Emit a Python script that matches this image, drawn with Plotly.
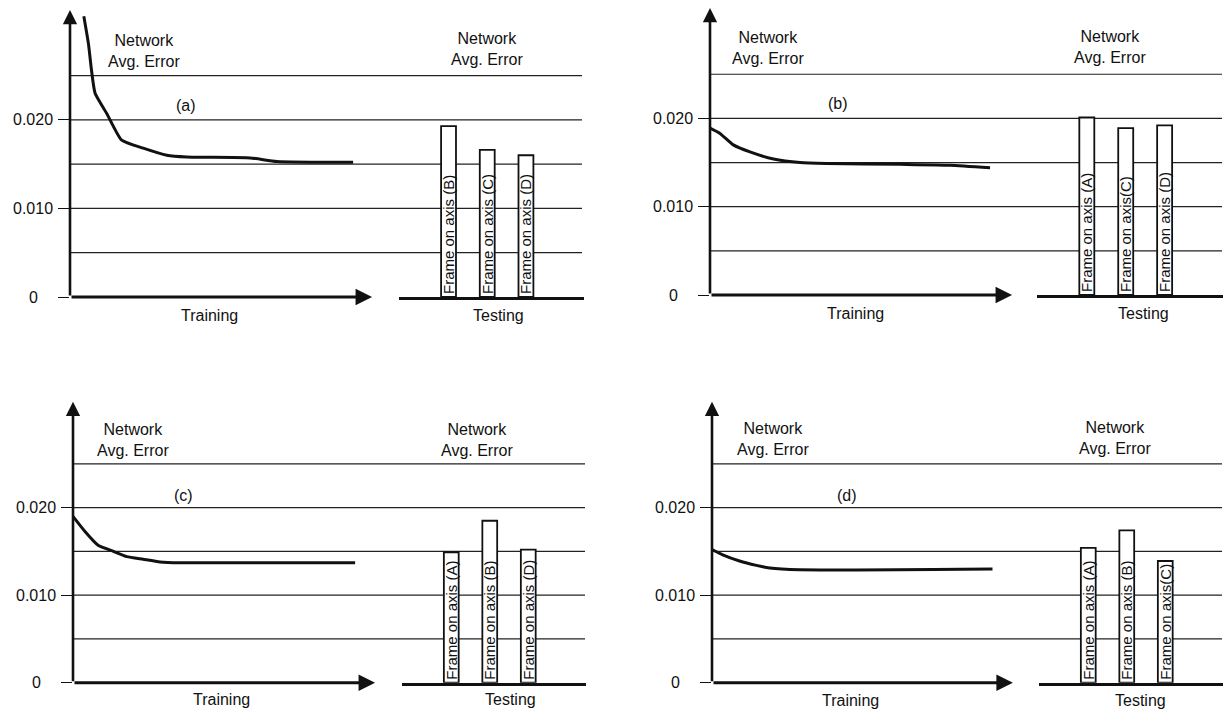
import plotly.graph_objects as go

W, H = 1223, 709
FONT = "Liberation Sans, Arial, sans-serif"

# ---------------- data ----------------
PANEL_TAGS = ["(a)", "(b)", "(c)", "(d)"]

# training curves (x: training progress, arbitrary units; y: network avg. error)
train_x_a = [2.7, 3.6, 4.2, 4.9, 7.2, 10.1, 14.3, 18.9, 22.8, 35.2, 40.4, 55.3]
train_y_a = [0.0317, 0.0286, 0.0256, 0.0230, 0.0207, 0.0177, 0.0168, 0.0160, 0.0158, 0.0157, 0.0153, 0.0152]

train_x_b = [0.0, 1.95, 4.55, 7.8, 12.4, 17.6, 22.8, 37.1, 46.9, 54.7]
train_y_b = [0.0189, 0.0183, 0.0170, 0.0162, 0.0154, 0.0150, 0.0149, 0.0148, 0.0147, 0.0144]

train_x_c = [0.0, 2.3, 4.9, 7.9, 10.5, 13.7, 17.0, 20.9, 55.1]
train_y_c = [0.0190, 0.0173, 0.0157, 0.0150, 0.0144, 0.0141, 0.0138, 0.0137, 0.0137]

train_x_d = [0.0, 2.1, 5.4, 8.7, 11.3, 17.2, 55.0]
train_y_d = [0.0152, 0.0146, 0.0139, 0.0134, 0.0131, 0.0129, 0.0130]

# testing bars
test_labels_a = ["Frame on axis (B)", "Frame on axis (C)", "Frame on axis (D)"]
test_values_a = [0.0193, 0.0166, 0.0160]

test_labels_b = ["Frame on axis (A)", "Frame on axis(C)", "Frame on axis (D)"]
test_values_b = [0.0201, 0.0189, 0.0192]

test_labels_c = ["Frame on axis (A)", "Frame on axis (B)", "Frame on axis (D)"]
test_values_c = [0.0149, 0.0185, 0.0152]

test_labels_d = ["Frame on axis (A)", "Frame on axis (B)", "Frame on axis(C)"]
test_values_d = [0.0154, 0.0174, 0.0139]

GRID_LEVELS = [0.005, 0.010, 0.015, 0.020, 0.025]
TICK_VALUES = [0, 0.010, 0.020]
TICK_LABELS = ["0", "0.010", "0.020"]

train_x = [train_x_a, train_x_b, train_x_c, train_x_d]
train_y = [train_y_a, train_y_b, train_y_c, train_y_d]
test_labels = [test_labels_a, test_labels_b, test_labels_c, test_labels_d]
test_values = [test_values_a, test_values_b, test_values_c, test_values_d]

# ---------------- layout geometry (pixels) ----------------
GEOM = [
    dict(ax=70, gx=582, tx=399, tex=584, zy=297, ty=10, ymax=0.0324),
    dict(ax=710, gx=1222, tx=1037, tex=1223, zy=295, ty=8, ymax=0.0325),
    dict(ax=73, gx=585, tx=402, tex=586, zy=682.7, ty=401.7, ymax=0.0321),
    dict(ax=712, gx=1222, tx=1039, tex=1223, zy=682.7, ty=401.7, ymax=0.0321),
]
TEXTPOS = [
    dict(nl=(144, 51), nr=(487, 49), tag=(186, 106), tr=(209, 315), te=(498, 315)),
    dict(nl=(768, 48), nr=(1110, 47), tag=(838, 103), tr=(855, 313), te=(1143, 313)),
    dict(nl=(133, 440), nr=(477, 440), tag=(183, 495), tr=(222, 699), te=(510, 699)),
    dict(nl=(773, 439), nr=(1115, 438), tag=(847, 495), tr=(850, 700), te=(1140, 700)),
]
X_RANGE = [0, 100]
ARROW_END = 59
CAT_RANGE = [-1.28, 3.5]
BAR_WIDTH = 0.385
TXT = 16


def px_x(p):
    return min(max(p / W, 0.0), 1.0)


def px_y(p):
    return min(max(1 - p / H, 0.0), 1.0)


def aname(i):
    return "" if i == 1 else str(i)


fig = go.Figure()
layout = dict(
    width=W, height=H, margin=dict(l=0, r=0, t=0, b=0),
    paper_bgcolor="white", plot_bgcolor="rgba(0,0,0,0)",
    showlegend=False, font=dict(family=FONT, size=TXT, color="#111"),
)
shapes = []
annotations = []

for p in range(4):
    g = GEOM[p]
    tp = TEXTPOS[p]
    ti = 2 * p + 1
    si = 2 * p + 2
    tn, sn = aname(ti), aname(si)
    ydom = [px_y(g["zy"]), px_y(g["ty"])]

    layout[f"xaxis{tn}"] = dict(domain=[px_x(g["ax"]), px_x(g["gx"])], range=X_RANGE,
                                anchor=f"y{tn}", showline=False, showgrid=False,
                                zeroline=False, showticklabels=False, ticks="")
    layout[f"yaxis{tn}"] = dict(domain=ydom, range=[0, g["ymax"]], anchor=f"x{tn}",
                                showline=False, showgrid=False, zeroline=False,
                                tickvals=TICK_VALUES, ticks="outside", ticklen=11,
                                tickwidth=1.3, tickcolor="#111", showticklabels=False)
    layout[f"xaxis{sn}"] = dict(domain=[px_x(g["tx"]), px_x(g["tex"])], range=CAT_RANGE,
                                anchor=f"y{sn}", type="category", showline=True,
                                linewidth=3, linecolor="#111", showgrid=False,
                                zeroline=False, showticklabels=False, ticks="")
    layout[f"yaxis{sn}"] = dict(domain=ydom, range=[0, g["ymax"]], anchor=f"x{sn}",
                                visible=False)

    fig.add_trace(go.Scatter(x=train_x[p], y=train_y[p], mode="lines",
                             xaxis=f"x{tn}", yaxis=f"y{tn}",
                             line=dict(color="#111", width=3, shape="spline", smoothing=0.5),
                             hoverinfo="skip"))

    for lvl in GRID_LEVELS:
        shapes.append(dict(type="line", xref=f"x{tn} domain", yref=f"y{tn}",
                           x0=0, x1=1, y0=lvl, y1=lvl, layer="below",
                           line=dict(color="#222", width=1.2)))

    annotations.append(dict(xref=f"x{tn}", yref=f"y{tn}", axref=f"x{tn}", ayref=f"y{tn}",
                            x=0, y=g["ymax"], ax=0, ay=0, text="", showarrow=True,
                            arrowhead=2, arrowsize=1.1, arrowwidth=2.6, arrowcolor="#111",
                            standoff=0, startstandoff=0))
    annotations.append(dict(xref=f"x{tn}", yref=f"y{tn}", axref=f"x{tn}", ayref=f"y{tn}",
                            x=ARROW_END, y=0, ax=0, ay=0, text="", showarrow=True,
                            arrowhead=2, arrowsize=1.1, arrowwidth=3, arrowcolor="#111",
                            standoff=0, startstandoff=0))

    for v, lab in zip(TICK_VALUES, TICK_LABELS):
        annotations.append(dict(xref=f"x{tn} domain", yref=f"y{tn}", x=0, y=v,
                                xshift=-37, text=lab, showarrow=False,
                                xanchor="center", yanchor="middle",
                                font=dict(size=TXT, color="#111")))

    def addtext(pos, txt):
        annotations.append(dict(xref="paper", yref="paper", x=px_x(pos[0]), y=px_y(pos[1]),
                                text=txt, showarrow=False, xanchor="center",
                                yanchor="middle", font=dict(size=TXT, color="#111")))

    addtext(tp["nl"], "Network<br>Avg. Error")
    addtext(tp["nr"], "Network<br>Avg. Error")
    addtext(tp["tag"], PANEL_TAGS[p])
    addtext(tp["tr"], "Training")
    addtext(tp["te"], "Testing")

    fig.add_trace(go.Bar(x=test_labels[p], y=test_values[p], xaxis=f"x{sn}", yaxis=f"y{sn}",
                         width=BAR_WIDTH,
                         marker=dict(color="white", line=dict(color="#111", width=1.8)),
                         text=test_labels[p], textposition="inside", textangle=-90,
                         insidetextanchor="start", constraintext="none",
                         textfont=dict(size=15, color="#111", family=FONT),
                         hoverinfo="skip"))

layout["shapes"] = shapes
layout["annotations"] = annotations
fig.update_layout(**layout)
fig.write_html("out.html")
